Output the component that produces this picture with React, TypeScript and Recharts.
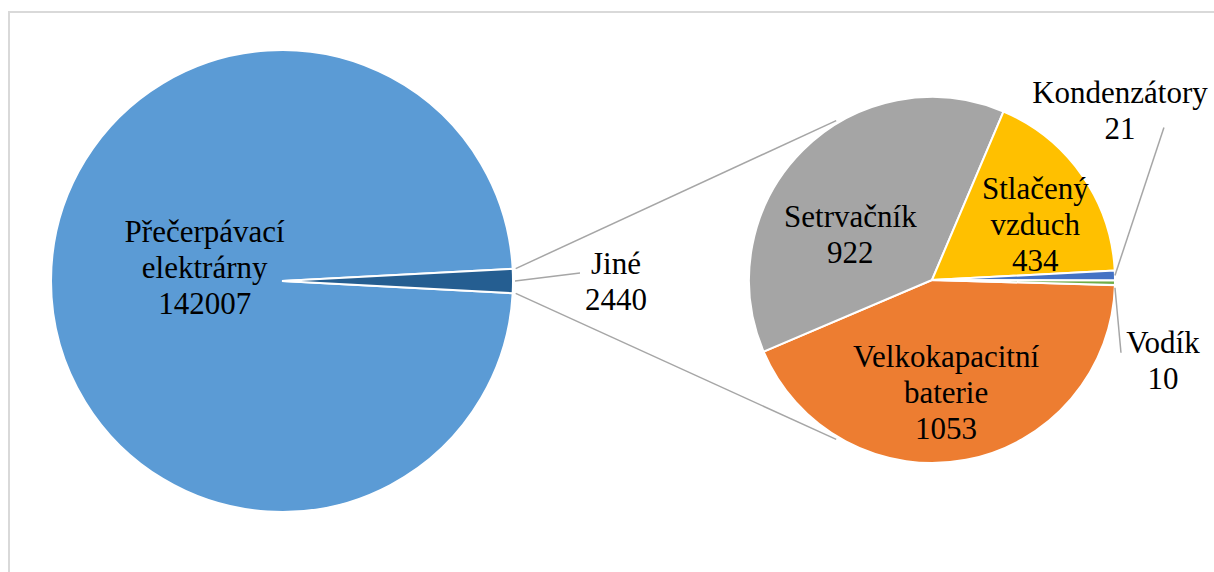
import React from "react";
import { PieChart, Pie, Cell, Customized } from "recharts";

// main pie
const mainNames = ["Přečerpávací elektrárny", "Jiné"];
const mainValues = [142007, 2440];
const mainColors = ["#5B9BD5", "#255E91"];

// breakdown of "Jiné"
const otherNames = ["Velkokapacitní baterie", "Setrvačník", "Stlačený vzduch", "Kondenzátory", "Vodík"];
const otherValues = [1053, 922, 434, 21, 10];
const otherColors = ["#ED7D31", "#A5A5A5", "#FFC000", "#4472C4", "#70AD47"];

const W = 1214;
const H = 572;
const FONT = "Liberation Serif, DejaVu Serif, serif";
const FS = 31;
const LH = 36;

const P1 = { cx: 282, cy: 281, r: 231 };
const P2 = { cx: 932, cy: 280, r: 183 };
const CONNECTOR_ANGLE = 121;
const RAD = Math.PI / 180;

const mainData = mainNames.map((name, i) => ({ name, value: mainValues[i] }));
const otherData = otherNames.map((name, i) => ({ name, value: otherValues[i] }));

const mainTotal = mainValues.reduce((a, b) => a + b, 0);
const jineHalf = (180 * mainValues[1]) / mainTotal;

// label placement: inside = radius fraction + angle shift, outside = offsets from slice edge
type Spot =
  | { kind: "in"; r: number; da: number }
  | { kind: "out"; tx: number; ty: number; sx: number; sy: number; lx: number; ly: number };

const spots: Record<string, Spot> = {
  "Přečerpávací elektrárny": { kind: "in", r: 0.34, da: -10 },
  "Jiné": { kind: "out", tx: 103, ty: 0, sx: 2, sy: 0, lx: 67, ly: -8 },
  "Velkokapacitní baterie": { kind: "in", r: 0.62, da: -3.6 },
  "Setrvačník": { kind: "in", r: 0.51, da: 16 },
  "Stlačený vzduch": { kind: "in", r: 0.64, da: -6.9 },
  "Kondenzátory": { kind: "out", tx: 5, ty: -165, sx: 0, sy: 0, lx: 49, ly: -148 },
  "Vodík": { kind: "out", tx: 48, ty: 78, sx: 0, sy: 5, lx: 6, ly: 70 },
};

function TextBlock({ x, y, lines }: { x: number; y: number; lines: string[] }) {
  const n = lines.length;
  return (
    <text
      x={x}
      y={y}
      textAnchor="middle"
      fill="#000"
      fontFamily={FONT}
      fontSize={FS}
      style={{ fontFamily: FONT, fontSize: FS }}
    >
      {lines.map((t, i) => (
        <tspan
          key={i}
          x={x}
          y={y + (i - (n - 1) / 2) * LH + FS * 0.34}
          style={{ fontFamily: FONT }}
        >
          {t}
        </tspan>
      ))}
    </text>
  );
}

const renderLabel = (props: any) => {
  const { cx, cy, midAngle, outerRadius, name, value } = props;
  const spot = spots[name];
  if (!spot) return null;
  const lines = [...String(name).split(" "), String(value)];
  if (spot.kind === "in") {
    const a = (midAngle + spot.da) * RAD;
    const x = cx + outerRadius * spot.r * Math.cos(a);
    const y = cy - outerRadius * spot.r * Math.sin(a);
    return <TextBlock x={x} y={y} lines={lines} />;
  }
  const a = midAngle * RAD;
  const ex = cx + outerRadius * Math.cos(a);
  const ey = cy - outerRadius * Math.sin(a);
  return (
    <g>
      <line
        x1={ex + spot.sx}
        y1={ey + spot.sy}
        x2={ex + spot.lx}
        y2={ey + spot.ly}
        stroke="#A6A6A6"
        strokeWidth={1.5}
      />
      <TextBlock x={ex + spot.tx} y={ey + spot.ty} lines={lines} />
    </g>
  );
};

function Connectors() {
  const ends = [1, -1].map((s) => {
    const a1 = s * jineHalf * RAD;
    const a2 = s * CONNECTOR_ANGLE * RAD;
    return {
      x1: P1.cx + (P1.r + 3) * Math.cos(a1),
      y1: P1.cy - (P1.r + 3) * Math.sin(a1),
      x2: P2.cx + (P2.r + 3) * Math.cos(a2),
      y2: P2.cy - (P2.r + 3) * Math.sin(a2),
    };
  });
  return (
    <g>
      {ends.map((e, i) => (
        <line key={i} {...e} stroke="#A6A6A6" strokeWidth={1.5} />
      ))}
    </g>
  );
}

export default function App() {
  return (
    <div
      style={{
        position: "fixed",
        left: 0,
        top: 0,
        width: W,
        height: H,
        overflow: "hidden",
        background: "#fff",
        fontFamily: FONT,
      }}
    >
      <div
        style={{
          position: "absolute",
          left: 8,
          top: 11,
          width: W + 50,
          height: H + 50,
          border: "2px solid #D9D9D9",
        }}
      />
      <div style={{ position: "absolute", left: 0, top: 0 }}>
        <PieChart
          width={W}
          height={H}
          margin={{ top: 0, right: 0, bottom: 0, left: 0 }}
          style={{ fontFamily: FONT }}
        >
          <Customized component={Connectors} />
          <Pie
            data={mainData}
            dataKey="value"
            nameKey="name"
            cx={P1.cx}
            cy={P1.cy}
            outerRadius={P1.r}
            startAngle={360 - jineHalf}
            endAngle={-jineHalf}
            stroke="#fff"
            strokeWidth={2}
            label={renderLabel}
            labelLine={false}
            isAnimationActive={false}
          >
            {mainData.map((d, i) => (
              <Cell key={d.name} fill={mainColors[i]} />
            ))}
          </Pie>
          <Pie
            data={otherData}
            dataKey="value"
            nameKey="name"
            cx={P2.cx}
            cy={P2.cy}
            outerRadius={P2.r}
            startAngle={-1.6}
            endAngle={-361.6}
            stroke="#fff"
            strokeWidth={2}
            label={renderLabel}
            labelLine={false}
            isAnimationActive={false}
          >
            {otherData.map((d, i) => (
              <Cell key={d.name} fill={otherColors[i]} />
            ))}
          </Pie>
        </PieChart>
      </div>
    </div>
  );
}
